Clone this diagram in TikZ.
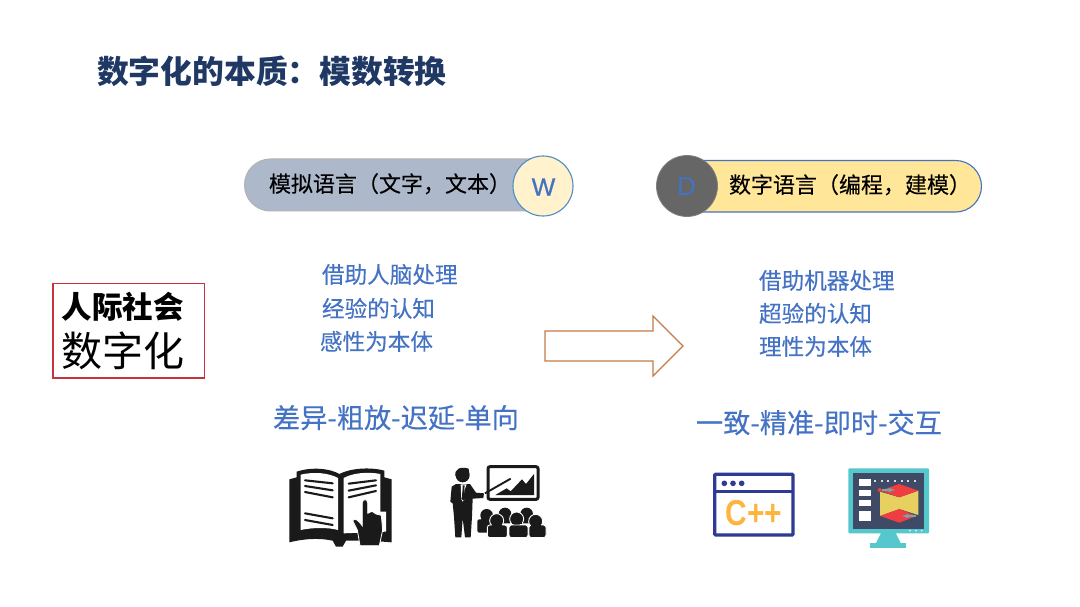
\documentclass[tikz,border=0pt]{standalone}
\usepackage{fontspec}
\setmainfont{Noto Sans CJK SC}
\newfontfamily\semifont[FakeBold=0.25]{Noto Sans CJK SC}
\newfontfamily\latinfont{Liberation Sans}
\newfontfamily\latinsemi[FakeBold=0.8]{Liberation Sans}
\definecolor{navy}{HTML}{1F3864}
\definecolor{bluetext}{HTML}{4472C4}
\definecolor{iconblack}{HTML}{1A1A1A}
\definecolor{iconnavy}{HTML}{2E3A94}
\definecolor{teal2}{HTML}{56C8CD}
\definecolor{screen}{HTML}{3F4A66}
\definecolor{redface}{HTML}{EF3E42}
\definecolor{yellowface}{HTML}{E8D060}
\definecolor{pillgrey}{HTML}{ADB9CA}
\definecolor{pillyellow}{HTML}{FFE699}
\definecolor{cream}{HTML}{FFF2CC}
\definecolor{ringblue}{HTML}{4F8DC6}
\definecolor{arrowbrown}{HTML}{C47A4A}
\definecolor{boxred}{HTML}{C8323C}
\definecolor{cppyellow}{HTML}{FDB53F}
\definecolor{arrowgrey}{HTML}{6FA8B0}
\tikzset{
  lbl/.style={inner sep=0pt,outer sep=0pt,anchor=base west},
  body/.style={lbl,text=bluetext,font=\semifont\fontsize{22.6}{26}\selectfont},
  slogan/.style={lbl,text=bluetext,font=\semifont\fontsize{27.2}{32}\selectfont},
  pilltext/.style={lbl,text=black,font=\semifont\fontsize{22}{26}\selectfont},
  textline/.style={draw=iconblack,line width=2.1pt,line cap=round},
  ink/.style={fill=iconblack,draw=none},
  person/.style={fill=iconblack,draw=white,line width=.9pt},
}
\begin{document}
\begin{tikzpicture}[x=1pt,y=-1pt]
\useasboundingbox (0,0) rectangle (1080,607);
\fill[white] (0,0) rectangle (1080,607);
% title
\node[lbl,text=navy,font=\fontsize{31.8}{36}\selectfont\bfseries] (title) at (97,84) {数字化的本质：模数转换};
% left pill
\draw[fill=pillgrey,draw=black!30,line width=1pt,rounded corners=25.9pt] (244.5,159) rectangle (560,211);
\fill[white] (573.5,150) rectangle (590,220);
\draw[fill=cream,draw=ringblue,line width=1.1pt] (543,186) circle[radius=30];
\node[pilltext] (ltext) at (269,192) {模拟语言（文字，文本）};
\node[text=bluetext,font=\latinsemi\fontsize{25}{30}\selectfont,inner sep=0pt] (w) at (543.5,187) {W};
% right pill
\draw[fill=pillyellow,draw=bluetext,line width=1.1pt,rounded corners=25.9pt] (670,160.5) rectangle (981.5,212);
\draw[fill=black!60,draw=black!50,line width=.8pt] (687,186) circle[radius=30.5];
\node[pilltext] (rtext) at (729,193) {数字语言（编程，建模）};
\node[text=bluetext,font=\latinfont\fontsize{26}{30}\selectfont,inner sep=0pt] (d) at (686.5,187) {D};
% left box
\draw[draw=boxred,line width=1.2pt] (53,283.5) rectangle (204.5,378);
\node[lbl,text=black,font=\fontsize{30.5}{36}\selectfont\bfseries] (soc) at (61.5,318) {人际社会};
\node[lbl,text=black,font=\fontsize{41}{48}\selectfont] (dig) at (61,366) {数字化};
% body text
\node[body] (a1) at (322,283) {借助人脑处理};
\node[body] (a2) at (322,317) {经验的认知};
\node[body] (a3) at (320,350) {感性为本体};
\node[body] (b1) at (759,289) {借助机器处理};
\node[body] (b2) at (759,322) {超验的认知};
\node[body] (b3) at (759,355) {理性为本体};
\node[slogan] (s1) at (273,428) {差异-粗放-迟延-单向};
\node[slogan] (s2) at (696,433) {一致-精准-即时-交互};
% big arrow
\draw[draw=arrowbrown,line width=1.2pt,fill=white,line join=miter] (545,331) -- (653,331) -- (653,316) -- (683,346) -- (653,376) -- (653,361) -- (545,361) -- cycle;
% book + presenter icons, in crop coordinates
\begin{scope}[shift={(270,450)},scale=1/3]
  \fill[ink] (58,88) -- (80,82) -- (80,65) .. controls (125,50) and (180,55) .. (208,72) .. controls (240,55) and (300,50) .. (343,62) -- (343,82) -- (365,88) -- (365,277) -- (300,272) -- (228,272) -- (218,290) -- (198,290) -- (188,272) .. controls (140,262) and (95,268) .. (58,277) -- cycle;
  \fill[white] (92,74) .. controls (130,65) and (175,68) .. (204,84) -- (204,240) .. controls (175,232) and (130,232) .. (92,240) -- cycle;
  \fill[white] (221,84) .. controls (250,68) and (295,65) .. (331,72) -- (331,185) -- (348,185) -- (348,245) -- (221,250) -- cycle;
  \draw[textline] (105,91) -- (188,100);
  \draw[textline] (105,108) -- (188,121);
  \draw[textline] (105,126) -- (188,142);
  \draw[textline] (105,190) -- (188,205);
  \draw[textline] (105,210) -- (188,225);
  \draw[textline] (236,101) -- (318,91);
  \draw[textline] (236,122) -- (318,106);
  \draw[textline] (236,142) -- (318,123);
  % hand
  \fill[ink,draw=white,line width=.8pt] (277,205) -- (277,158) .. controls (277,146) and (293,146) .. (293,158) -- (293,190) -- (306,184) -- (318,192) -- (334,196) -- (338,240) -- (328,287) -- (270,287) -- (262,240) -- (248,212) .. controls (255,200) and (268,215) .. (277,228) -- cycle;
  % presenter
  \fill[ink] (578,76) circle[radius=21];
  \fill[ink] (556,78) .. controls (553,58) and (570,48) .. (596,56) -- (598,72) -- (578,70) -- cycle;
  \fill[ink] (545,110) -- (558,102) -- (600,102) -- (618,128) -- (642,130) -- (640,144) -- (608,146) -- (606,200) -- (602,262) -- (585,262) -- (578,205) -- (574,262) -- (556,262) -- (552,200) -- (548,160) -- (541,155) -- cycle;
  \fill[white] (572,103) -- (590,103) -- (584,118) -- (584,148) -- (578,155) -- (574,148) -- cycle;
  \fill[ink] (578,106) -- (584,106) -- (583,116) -- (586,146) -- (580,152) -- (575,146) -- (578,116) -- cycle;
  \draw[iconblack,line width=3pt,rounded corners=2pt] (654,50) rectangle (804,148);
  \draw[iconblack,line width=1.9pt] (645,130) -- (722,86);
  \fill[ink] (676,135) -- (710,115) -- (722,124) -- (756,88) -- (768,102) -- (792,72) -- (792,135) -- cycle;
  % audience
  \fill[ink] (650,196) circle[radius=19];
  \fill[ink] (705,192) circle[radius=19];
  \fill[ink] (770,192) circle[radius=19];
  \fill[ink,rounded corners=2pt] (622,208) rectangle (660,248);
  \fill[ink,rounded corners=2pt] (632,205) rectangle (668,225);
  \fill[ink,rounded corners=2pt] (688,200) rectangle (725,220);
  \fill[ink,rounded corners=2pt] (752,200) rectangle (788,220);
  \foreach \cx/\cy/\bl/\br in {680/212/652/712, 740/207/717/774, 797/214/777/828}{
    \draw[person] (\cx,\cy) circle[radius=21];
    \draw[person,rounded corners=2.5pt] (\bl,225) rectangle (\br,263);
    \fill[ink] (\cx-15,\cy+2) rectangle (\cx+15,\cy+16);
  }
\end{scope}
% C++ and monitor icons
\begin{scope}[shift={(700,455)},scale=1/3]
  \draw[iconnavy,line width=3.3pt,rounded corners=1pt,fill=white] (44,58) rectangle (279,240);
  \draw[iconnavy,line width=3.3pt] (44,110) -- (279,110);
  \foreach \dx in {73,99,125} \fill[iconnavy] (\dx,85) circle[radius=8.5];
  \node[text=cppyellow,font=\latinfont\fontsize{36}{40}\selectfont\bfseries,inner sep=0pt,xscale=.83] (cpp) at (161,173) {C++};
  % monitor
  \fill[teal2,rounded corners=1pt] (445,40) rectangle (687,235);
  \fill[teal2] (545,230) -- (585,230) -- (603,266) -- (527,266) -- cycle;
  \fill[teal2] (510,265) rectangle (617,279);
  \fill[screen] (459,54) rectangle (673,222);
  \fill[white] (477,73) rectangle (512,92);
  \fill[white] (477,105) rectangle (512,122);
  \fill[white] (477,136) rectangle (512,154);
  \fill[white] (477,167) rectangle (512,199);
  \foreach \dx in {525,545,565,585,605,625,645} \fill[white!80!screen] (\dx-3,74) rectangle (\dx+3,80);
  \foreach \dx in {630,648,665} \fill[white!80!teal2] (\dx,227) circle[radius=3];
  \fill[yellowface] (540,110) -- (598,127) -- (655,107) -- (655,180) -- (598,162) -- (540,183) -- cycle;
  \fill[redface] (540,107) -- (598,87) -- (655,107) -- (598,127) -- cycle;
  \fill[redface] (540,183) -- (598,162) -- (650,183) -- (598,203) -- cycle;
  \fill[redface] (539,105) circle[radius=6];
  \draw[arrowgrey,line width=1.2pt,-latex] (545,105) -- (585,105);
  \draw[arrowgrey,line width=1.2pt,-latex] (648,183) -- (606,183);
\end{scope}
\end{tikzpicture}
\end{document}
